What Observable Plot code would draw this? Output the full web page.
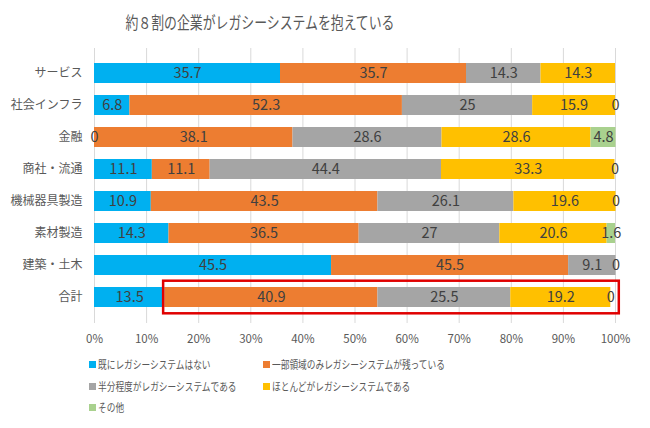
<!DOCTYPE html>
<html><head><meta charset="utf-8">
<script src="https://cdn.jsdelivr.net/npm/d3@7"></script>
<script src="https://cdn.jsdelivr.net/npm/@observablehq/plot@0.6"></script>
<style>
body{margin:0;background:#fff;font-family:"Noto Sans CJK JP","Noto Sans",sans-serif;}
#wrap{position:relative;width:650px;height:428px;overflow:hidden;background:#fff}
#title{position:absolute;top:10px;left:0;width:520px;text-align:center;font-size:16.5px;color:#595959;transform:scaleX(0.78);transform-origin:260px 0;white-space:nowrap}
#chart{position:absolute;top:0;left:0}
.lg{position:absolute;font-size:11px;color:#595959;white-space:nowrap;display:flex;align-items:center}
.lg i{display:inline-block;width:7px;height:7px;margin-right:2px}
.lg span{display:inline-block;transform:scaleX(0.79);transform-origin:0 50%}
</style></head>
<body><div id="wrap"><div id="title"></div><div id="chart"></div><div id="legend"></div></div>
<script>
const title = "約８割の企業がレガシーシステムを抱えている";
const categories = ["サービス","社会インフラ","金融","商社・流通","機械器具製造","素材製造","建築・土木","合計"];
const seriesNames = ["既にレガシーシステムはない","一部領域のみレガシーシステムが残っている","半分程度がレガシーシステムである","ほとんどがレガシーシステムである","その他"];
const colors = ["#00B0F0","#ED7D31","#A5A5A5","#FFC000","#A9D18E"];
const noneVals    = [35.7, 6.8, 0, 11.1, 10.9, 14.3, 45.5, 13.5];
const partialVals = [35.7, 52.3, 38.1, 11.1, 43.5, 36.5, 45.5, 40.9];
const halfVals    = [14.3, 25, 28.6, 44.4, 26.1, 27, 9.1, 25.5];
const mostVals    = [14.3, 15.9, 28.6, 33.3, 19.6, 20.6, null, 19.2];
const otherVals   = [null, 0, 4.8, 0, 0, 1.6, 0, 0];
const xTicks = [0,10,20,30,40,50,60,70,80,90,100];
const highlight = [{cat:"合計", from:13.5, to:100}];

const seriesVals = [noneVals, partialVals, halfVals, mostVals, otherVals];
const rows = [];
categories.forEach((c,i)=>seriesVals.forEach((arr,s)=>{
  if (arr[i] != null) rows.push({cat:c, series:seriesNames[s], value:arr[i]});
}));

document.getElementById("title").textContent = title;

const font = '"Noto Sans CJK JP","Noto Sans",sans-serif';
const chart = Plot.plot({
  width:650, height:350,
  marginTop:48, marginBottom:27, marginLeft:94, marginRight:35,
  x:{domain:[0,100], label:null},
  y:{domain:categories, padding:0.36, label:null},
  color:{domain:seriesNames, range:colors},
  style:{fontFamily:font, fontSize:"12px", color:"#595959", background:"transparent"},
  marks:[
    Plot.gridX(xTicks,{stroke:"#d9d9d9", strokeOpacity:1, strokeWidth:1}),
    Plot.barX(rows, Plot.stackX({x:"value", y:"cat", fill:"series", order:seriesNames})),
    Plot.text(rows, Plot.stackX({x:"value", y:"cat", z:"series", order:seriesNames,
      text:d=>String(d.value), fill:"#404040", fontSize:14.5})),
    Plot.axisX(xTicks,{tickSize:0, tickPadding:11, fontSize:11.5, fill:"#595959", tickFormat:d=>d+"%", label:null}),
    Plot.axisY({tickSize:0, tickPadding:12, fontSize:12, fill:"#595959", label:null}),
    Plot.barX(highlight,{x1:"from", x2:"to", y:"cat", fill:"none", stroke:"#E00000", strokeWidth:2.5,
      insetTop:-6.3, insetBottom:-6.3, insetLeft:-1.2, insetRight:-3.8})
  ]
});
document.getElementById("chart").appendChild(chart);

const legendPos = [[89,356],[263,356],[89,378],[263,378],[89,399]];
const lg = document.getElementById("legend");
seriesNames.forEach((n,i)=>{
  const d = document.createElement("div");
  d.className = "lg";
  d.style.left = legendPos[i][0]+"px";
  d.style.top = legendPos[i][1]+"px";
  d.innerHTML = `<i style="background:${colors[i]}"></i><span>${n}</span>`;
  lg.appendChild(d);
});
</script></body></html>
